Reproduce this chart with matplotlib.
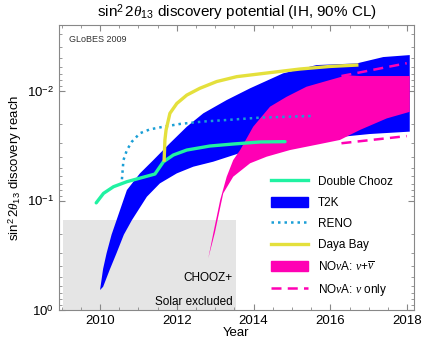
import matplotlib
matplotlib.use("Agg")
import matplotlib.pyplot as plt
from matplotlib.patches import Patch
from matplotlib.lines import Line2D
import numpy as np

plt.rcParams['font.family'] = ['Liberation Sans', 'DejaVu Sans']
plt.rcParams['mathtext.fontset'] = 'custom'
plt.rcParams['mathtext.rm'] = 'Liberation Sans'
plt.rcParams['mathtext.it'] = 'Liberation Serif:italic'

# Double Chooz
dc_ano = [2009.90, 2010.09, 2010.35, 2010.70, 2011.43, 2011.65, 2011.91, 2012.26, 2012.86, 2013.46, 2014.17, 2014.82]
dc_val = [0.105, 0.086, 0.0748, 0.0673, 0.0573, 0.0443, 0.0384, 0.0346, 0.0318, 0.0305, 0.0292, 0.029]

# RENO
reno_ano = [2010.57, 2010.61, 2010.70, 2010.83, 2011.04, 2011.30, 2011.65, 2012.08, 2012.69, 2013.30, 2014.17, 2015.55]
reno_val = [0.064, 0.0427, 0.0346, 0.029, 0.0243, 0.0224, 0.0212, 0.020, 0.019, 0.0184, 0.0175, 0.0169]

# Daya Bay
db_ano = [2011.67, 2011.69, 2011.72, 2011.82, 2012.0, 2012.26, 2012.60, 2013.04, 2013.56, 2014.35, 2015.21, 2015.99, 2016.69]
db_val = [0.0427, 0.028, 0.0227, 0.016, 0.0130, 0.0109, 0.00945, 0.0082, 0.0074, 0.00685, 0.0063, 0.00597, 0.0058]

# T2K (faixa)
t2k_sup_ano = [2010.0, 2010.08, 2010.17, 2010.30, 2010.43, 2010.70, 2011.04, 2011.39, 2011.82, 2012.26, 2012.69, 2013.30, 2013.91, 2014.77, 2015.64, 2016.69, 2017.38, 2018.07]
t2k_sup_val = [0.656, 0.42, 0.303, 0.205, 0.151, 0.0802, 0.0565, 0.0427, 0.030, 0.0212, 0.016, 0.0121, 0.00945, 0.0069, 0.0058, 0.0056, 0.0049, 0.0047]
t2k_inf_ano = [2010.0, 2010.08, 2010.25, 2010.43, 2010.62, 2010.83, 2011.22, 2011.56, 2012.0, 2012.43, 2012.95, 2013.65, 2014.43, 2015.21, 2016.25, 2017.03, 2018.07]
t2k_inf_val = [0.656, 0.613, 0.43, 0.302, 0.205, 0.151, 0.0923, 0.0697, 0.0565, 0.0491, 0.0442, 0.0368, 0.0318, 0.0286, 0.0263, 0.0247, 0.0235]

# NOvA nu + nubar (faixa)
nova_sup_ano = [2012.82, 2012.95, 2013.13, 2013.30, 2013.47, 2013.65, 2013.99, 2014.43, 2014.86, 2015.38, 2015.99, 2016.42, 2016.77, 2018.07]
nova_sup_val = [0.337, 0.1995, 0.099, 0.0606, 0.0427, 0.0346, 0.0212, 0.0139, 0.0113, 0.00914, 0.00794, 0.0072, 0.0073, 0.0073]
nova_inf_ano = [2012.82, 2012.99, 2013.21, 2013.47, 2013.91, 2014.34, 2014.95, 2015.73, 2016.25, 2016.77, 2017.47, 2018.07]
nova_inf_val = [0.337, 0.198, 0.086, 0.0606, 0.0457, 0.0398, 0.0346, 0.0305, 0.028, 0.0227, 0.0178, 0.0155]

# NOvA nu only
nu_ano = [2016.29, 2017.99]
nu_sup_val = [0.0073, 0.00558]
nu_inf_val = [0.030, 0.0258]

# CHOOZ + solar
chooz_ano = [2009.04, 2013.54]
chooz_lim = 0.15

fig = plt.figure(figsize=(4.29, 3.43), dpi=100)
ax = fig.add_axes([0.1375, 0.096, 0.8275, 0.831])

ax.fill_between(chooz_ano, [chooz_lim, chooz_lim], [1.0, 1.0], color='#e5e5e5', lw=0, zorder=1)

ax.fill(t2k_sup_ano + t2k_inf_ano[::-1], t2k_sup_val + t2k_inf_val[::-1], color='#0000ff', lw=0, zorder=2)
ax.fill(nova_sup_ano + nova_inf_ano[::-1], nova_sup_val + nova_inf_val[::-1], color='#ff00b4', lw=0, zorder=3)

ax.plot(dc_ano, dc_val, color='#20f2a2', lw=2.4, solid_capstyle='round', zorder=5)
ax.plot(reno_ano, reno_val, color='#1a9fd6', lw=1.8, ls=(0, (1, 1.6)), zorder=5)
ax.plot(db_ano, db_val, color='#e4e03c', lw=2.4, zorder=5)
ax.plot(nu_ano, nu_sup_val, color='#ff00b4', lw=1.8, ls=(0, (4, 2.5)), zorder=5)
ax.plot(nu_ano, nu_inf_val, color='#ff00b4', lw=1.8, ls=(0, (4, 2.5)), zorder=5)

ax.set_yscale('log')
ax.set_ylim(1.0, 2.5e-3)
ax.set_xlim(2008.93, 2018.18)
ax.set_xticks([2010, 2012, 2014, 2016, 2018])
ax.set_xticks(np.arange(2009, 2018.1, 0.5), minor=True)
ax.set_yticks([1, 0.1, 0.01])
ax.set_yticklabels([r'$10^{0}$', r'$10^{-1}$', r'$10^{-2}$'])
ax.tick_params(which='both', direction='in', top=True, right=True, color='#888888', labelsize=9.5)
ax.tick_params(which='major', length=4)
ax.tick_params(which='minor', length=2)
for s in ax.spines.values():
    s.set_color('#888888')

ax.set_title(r'sin$^2\,2\theta_{13}$ discovery potential (IH, 90% CL)', fontsize=11, pad=6)
ax.set_xlabel('Year', fontsize=9.5, labelpad=0)
ax.set_ylabel(r'sin$^2\,2\theta_{13}$ discovery reach', fontsize=9.5, labelpad=2)

ax.text(2009.2, 0.0036, 'GLoBES 2009', fontsize=6.5, color='#333333')
ax.text(2013.45, 0.51, 'CHOOZ+', fontsize=8.5, ha='right', va='center')
ax.text(2013.45, 0.85, 'Solar excluded', fontsize=8.5, ha='right', va='center')

handles = [
    Line2D([], [], color='#20f2a2', lw=2.4),
    Patch(color='#0000ff'),
    Line2D([], [], color='#1a9fd6', lw=1.8, ls=(0, (1, 1.6))),
    Line2D([], [], color='#e4e03c', lw=2.4),
    Patch(color='#ff00b4'),
    Line2D([], [], color='#ff00b4', lw=1.8, ls=(0, (4, 2.5))),
]
labels = ['Double Chooz', 'T2K', 'RENO', 'Daya Bay',
          r'NO$\nu$A: $\nu$+$\overline{\nu}$', r'NO$\nu$A: $\nu$ only']
ax.legend(handles, labels, loc='lower right', bbox_to_anchor=(0.97, 0.005), frameon=False,
          fontsize=8.5, handlelength=3.2, handleheight=1.0, labelspacing=0.75, handletextpad=0.8)

fig.savefig('out.png', dpi=100)
